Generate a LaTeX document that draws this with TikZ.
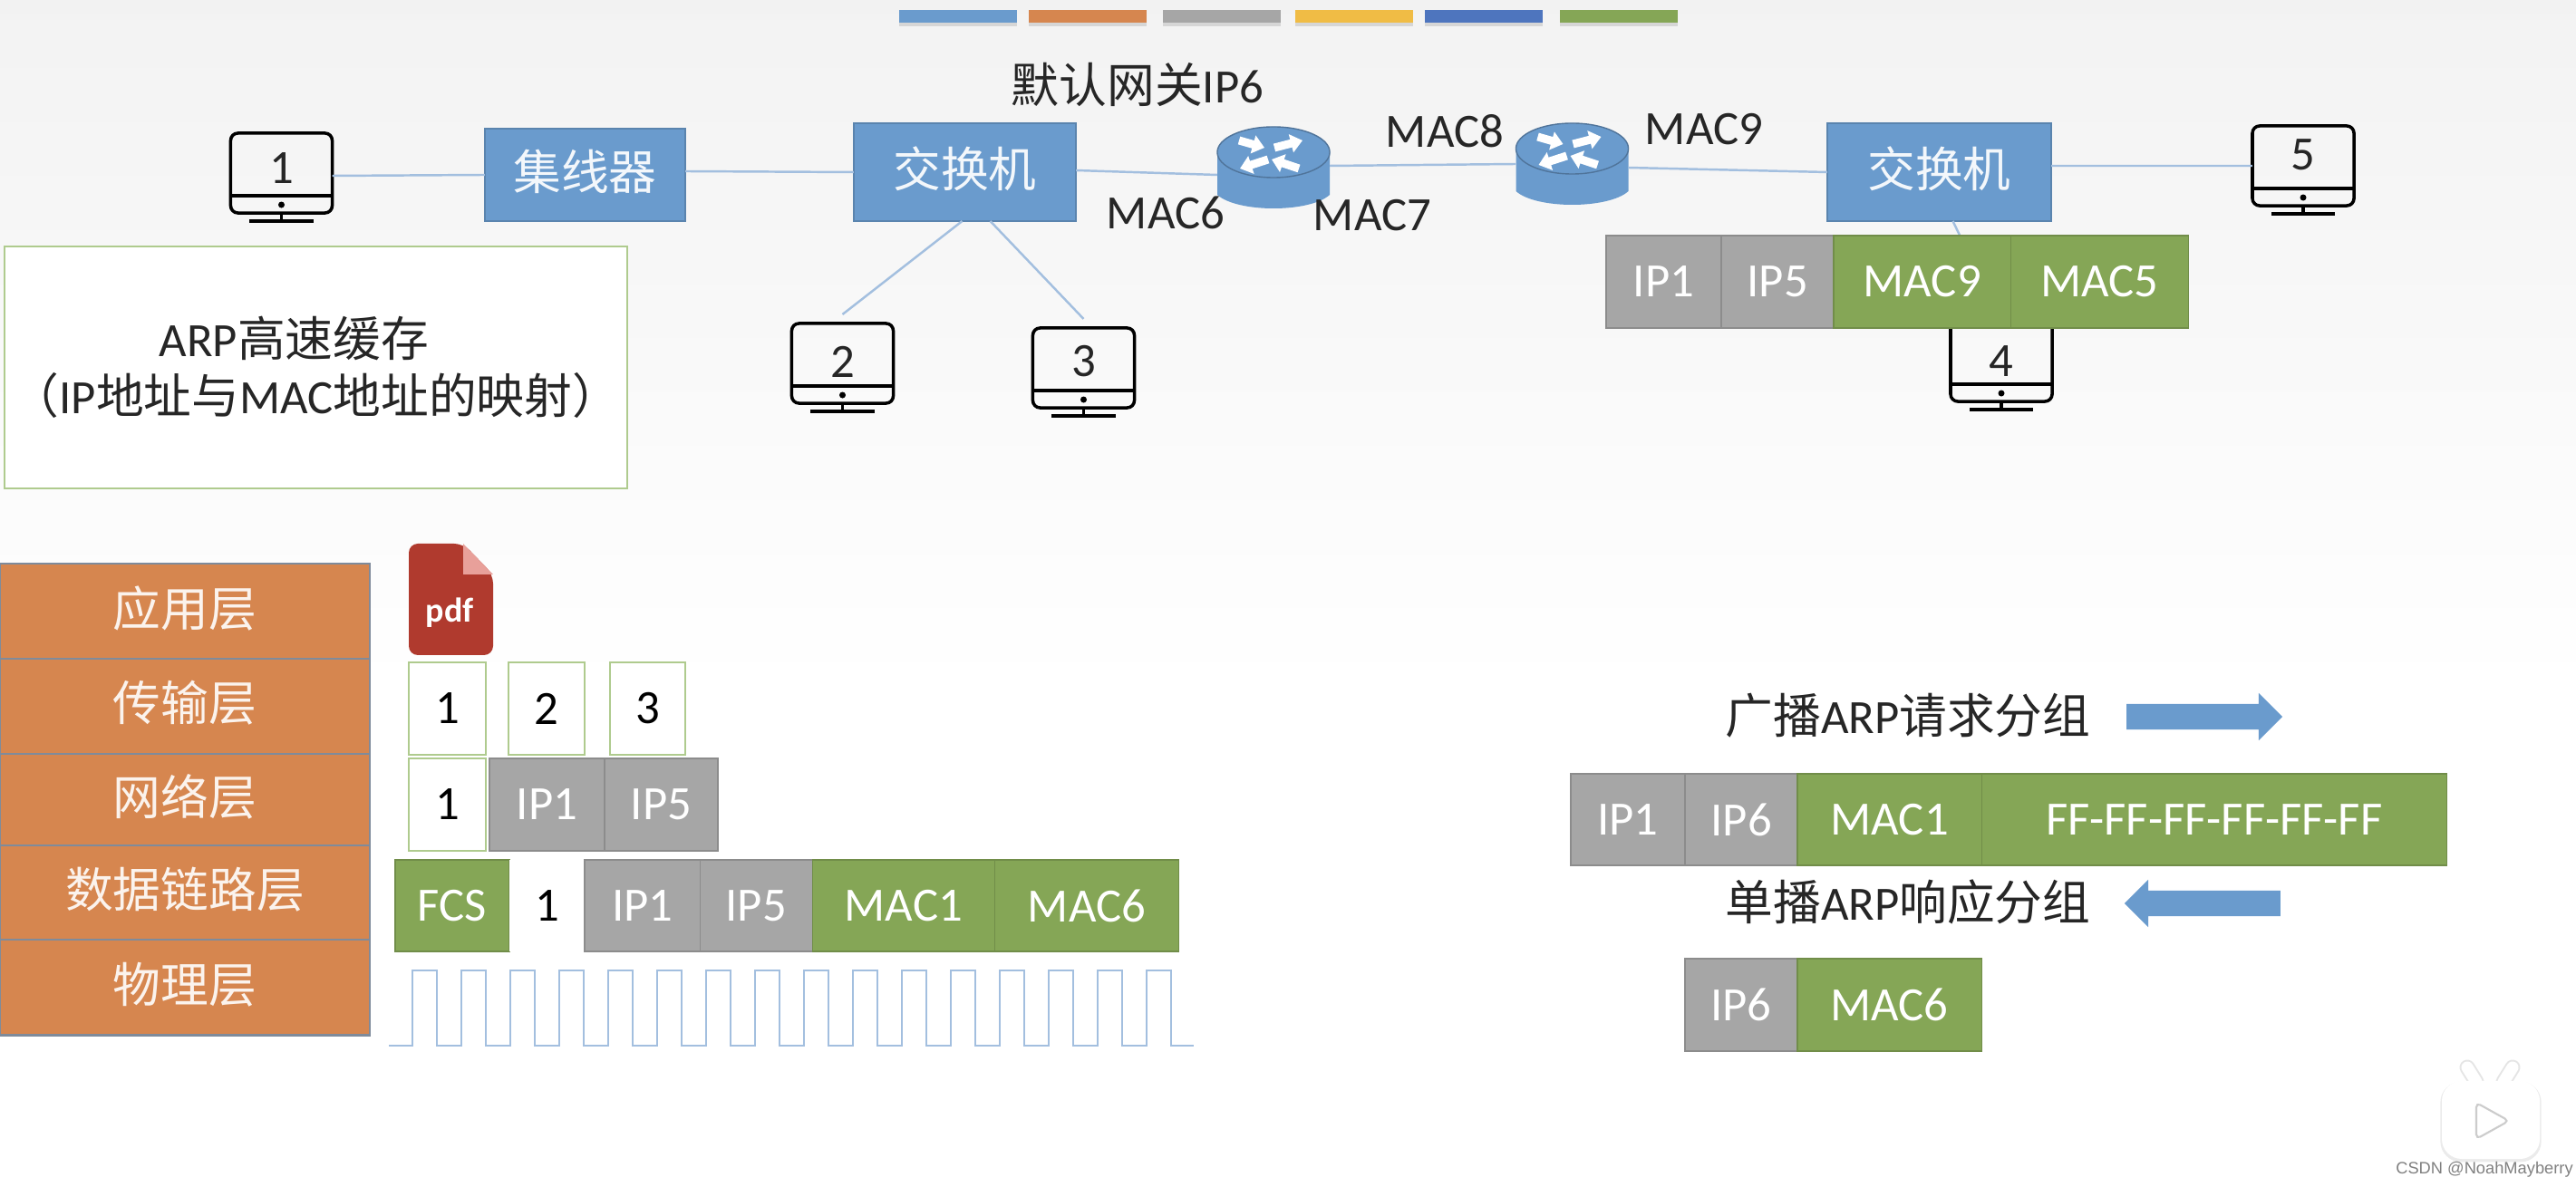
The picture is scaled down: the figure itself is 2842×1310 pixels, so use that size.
\documentclass[tikz,border=0pt]{standalone}
\usepackage{fontspec}
\setmainfont{Carlito}
\newfontfamily\cjk{Noto Sans CJK SC}
\newfontfamily\wmfont{Liberation Sans}
\usetikzlibrary{shapes.arrows,shadows,arrows.meta}

\definecolor{pptblue}{HTML}{6A9BCD}
\definecolor{pptorange}{HTML}{D6864F}
\definecolor{pptgray}{HTML}{A6A6A6}
\definecolor{pptgreen}{HTML}{85A656}
\definecolor{pptyellow}{HTML}{F0BC45}
\definecolor{pptnavy}{HTML}{4E75BE}
\definecolor{linkblue}{HTML}{A3BFDF}
\definecolor{softgreen}{HTML}{AFCB8E}
\definecolor{layerline}{HTML}{7F8B9B}
\definecolor{pdfred}{HTML}{B03A2E}
\definecolor{pdfpink}{HTML}{E8A09A}

\tikzset{
    cell/.style={rectangle, inner sep=0, outer sep=0, minimum height=1.02cm, text=white},
    ipcell/.style={cell, fill=pptgray, draw=black!45, line width=.4pt},
    maccell/.style={cell, fill=pptgreen, draw=pptgreen!85!black, line width=.4pt},
    datacell/.style={cell, fill=white, draw=softgreen, text=black, line width=.6pt},
    layer/.style={rectangle, inner sep=0, outer sep=0, minimum width=4.08cm, fill=pptorange, draw=layerline, line width=.7pt, text=white!90!pptorange},
    device/.style={rectangle, inner sep=0, outer sep=0, fill=pptblue, draw=pptblue!85!black, line width=.4pt, text=white!92!pptblue},
    monitor/.style={rectangle, inner sep=0, outer sep=0, draw=black, line width=1pt, rounded corners=.08cm,
        minimum width=1.12cm, minimum height=.88cm, text=black!85,
        append after command={
            \pgfextra{\draw[line width=1pt] ([yshift=.19cm]\tikzlastnode.south west)--([yshift=.19cm]\tikzlastnode.south east);
            \fill ([yshift=.09cm]\tikzlastnode.south) circle (.035cm);
            \draw[line width=1pt] (\tikzlastnode.south)--([yshift=-.09cm]\tikzlastnode.south);
            \draw[line width=1pt] ([xshift=-.35cm,yshift=-.09cm]\tikzlastnode.south)--([xshift=.35cm,yshift=-.09cm]\tikzlastnode.south);}
        }},
    link/.style={draw=linkblue, line width=.7pt},
    bar/.style={rectangle, inner sep=0, minimum width=1.3cm, minimum height=.14cm, anchor=west,
        drop shadow={shadow xshift=0cm, shadow yshift=-.04cm, opacity=.25}},
    flow/.style={single arrow, inner xsep=0, inner ysep=.135cm, minimum height=1.72cm, single arrow head extend=.12cm, fill=pptblue},
    tag/.style={inner sep=0, text=black!85},
}

% moves the ink only, the node keeps its size
\newcommand{\lift}[2]{\raisebox{#1}[\height][\depth]{#2}}
\newcommand{\zhup}[1]{\lift{.035cm}{\cjk #1}}

% router drawn around its named node
\newcommand{\router}[3]{
    \begin{scope}[shift={(#2,#3)}]
    \fill[pptblue] (-62,-17)--(-62,30) .. controls (-40,50) and (40,50) .. (62,30)--(62,-17)--cycle;
    \draw[fill=pptblue, draw=pptblue!75!black, line width=.4pt] (0,-17) ellipse [x radius=.62cm, y radius=.28cm];
    \draw[white, line width=.09cm, -{Triangle[length=.13cm, width=.2cm]}] (-38,-30)--(-10,-22);
    \draw[white, line width=.09cm, -{Triangle[length=.13cm, width=.2cm]}] (1,-22)--(32,-30);
    \draw[white, line width=.09cm, -{Triangle[length=.13cm, width=.2cm]}] (-6,-9)--(-37,1);
    \draw[white, line width=.09cm, -{Triangle[length=.13cm, width=.2cm]}] (28,1)--(-2,-9);
    \node[inner sep=0, outer sep=0, minimum width=1.24cm, minimum height=.9cm] (#1) at (0,0) {};
    \end{scope}
}

\begin{document}
\begin{tikzpicture}[x=.01cm, y=-.01cm, every node/.style={font=\fontsize{15}{18}\selectfont}]
    \useasboundingbox (0,0) rectangle (2842,1310);
    \shade[top color=black!5, bottom color=white] (0,0) rectangle (2842,760);

    % colour bars at the top
    \path
    (991,18)node[bar, fill=pptblue](bara){}
    (1134,18)node[bar, fill=pptorange](barb){}
    (1282,18)node[bar, fill=pptgray](barc){}
    (1428,18)node[bar, fill=pptyellow](bard){}
    (1571,18)node[bar, fill=pptnavy](bare){}
    (1720,18)node[bar, fill=pptgreen](barf){}
    ;

    % network
    \node[monitor](pc1) at (310.5,191){\lift{.05cm}{1}};
    \node[monitor](pc2) at (929.5,401){\lift{.02cm}{2}};
    \node[monitor](pc3) at (1195.5,406){\lift{.07cm}{3}};
    \node[monitor](pc4) at (2208,399){4};
    \node[monitor](pc5) at (2541,183){\lift{.12cm}{5}};
    \node[device, minimum width=2.21cm, minimum height=1.02cm](hub) at (645.5,193){\zhup{集线器}};
    \node[device, minimum width=2.45cm, minimum height=1.08cm](swa) at (1064.5,190){\zhup{交换机}};
    \node[device, minimum width=2.47cm, minimum height=1.08cm](swb) at (2139.5,190){\zhup{交换机}};
    \router{ra}{1405}{185}
    \router{rb}{1734.5}{181}

    \draw[link] ([yshift=-.03cm]pc1.east)--(hub.west);
    \draw[link] ([yshift=.04cm]hub.east)--(swa.west);
    \draw[link] ([yshift=.02cm]swa.east)--([yshift=-.08cm]ra.west);
    \draw[link] ([yshift=.02cm]ra.east)--(rb.west);
    \draw[link] ([yshift=-.04cm]rb.east)--(swb.west);
    \draw[link] ([yshift=.07cm]swb.east)--(pc5.west);
    \draw[link] ([xshift=-.03cm]swa.south)--([yshift=.1cm]pc2.north);
    \draw[link] ([xshift=.28cm]swa.south)--([yshift=.1cm]pc3.north);
    \draw[link] ([xshift=.15cm]swb.south)--(pc4.north);

    \node[tag](gw) at (1255,93){{\cjk 默认网关}IP6};
    \node[tag](macs) at (1286,235){MAC6};
    \node[tag](macv) at (1514,238){MAC7};
    \node[tag](mace) at (1594,145){MAC8};
    \node[tag](macn) at (1880,143){MAC9};

    % packet at the second switch
    \path
    (1772,311)node[ipcell, minimum width=1.27cm, anchor=west](wa){IP1}
    (wa.east)node[ipcell, minimum width=1.24cm, anchor=west](wb){IP5}
    (wb.east)node[maccell, minimum width=1.95cm, anchor=west](wc){MAC9}
    (wc.east)node[maccell, minimum width=1.96cm, anchor=west](wd){MAC5}
    ;

    % cache box
    \node[rectangle, fill=white, draw=softgreen, line width=.7pt, inner sep=0, minimum width=6.87cm, minimum height=2.67cm, align=center, text=black!85](cache) at (348.5,405.5){ARP{\cjk 高速缓存}\hspace{.48cm}\hspace{.01cm}\\{\cjk （}IP{\cjk 地址与}MAC{\cjk 地址的映射）}};

    % layers
    \path
    (204,622)node[layer, minimum height=1.05cm, anchor=north](la){\zhup{应用层}}
    (la.south)node[layer, minimum height=1.05cm, anchor=north](lb){\zhup{传输层}}
    (lb.south)node[layer, minimum height=1.01cm, anchor=north](lc){\zhup{网络层}}
    (lc.south)node[layer, minimum height=1.04cm, anchor=north](ld){\zhup{数据链路层}}
    (ld.south)node[layer, minimum height=1.05cm, anchor=north](le){\zhup{物理层}}
    ;

    % pdf file
    \fill[pdfred, rounded corners=.1cm] (451,600)--(511,600)--(544,634)--(544,723)--(451,723)--cycle;
    \fill[pdfpink] (511,600)--(544,634)--(511,634)--cycle;
    \node[inner sep=0, text=white, font=\fontsize{10.8}{12}\selectfont\bfseries](pdf) at (496,676){pdf};

    % segments
    \path
    (451,782)node[datacell, minimum width=.85cm, anchor=west](sa){1}
    (561,782)node[datacell, minimum width=.84cm, anchor=west](sb){2}
    (673,782)node[datacell, minimum width=.83cm, anchor=west](sc){3}
    ;
    \path
    (451,888)node[datacell, minimum width=.85cm, anchor=west](na){1}
    (540,888)node[ipcell, minimum width=1.27cm, anchor=west](nb){IP1}
    (nb.east)node[ipcell, minimum width=1.25cm, anchor=west](nc){IP5}
    ;
    \path
    (436,999.5)node[maccell, minimum width=1.26cm, minimum height=1.01cm, anchor=west](fa){FCS}
    (fa.east)node[datacell, minimum width=.83cm, minimum height=1.01cm, draw=none, anchor=west](fb){1}
    (fb.east)node[ipcell, minimum width=1.27cm, minimum height=1.01cm, anchor=west](fc){IP1}
    (fc.east)node[ipcell, minimum width=1.24cm, minimum height=1.01cm, anchor=west](fd){IP5}
    (fd.east)node[maccell, minimum width=2.01cm, minimum height=1.01cm, anchor=west](fe){MAC1}
    (fe.east)node[maccell, minimum width=2.03cm, minimum height=1.01cm, anchor=west](ff){MAC6}
    ;

    % signal
    \coordinate (wave) at (429,1154);
    \draw[link] (wave)--++(26,0)
    --++(0,-83)--++(27,0)--++(0,83)--++(27,0)
    --++(0,-83)--++(27,0)--++(0,83)--++(27,0)
    --++(0,-83)--++(27,0)--++(0,83)--++(27,0)
    --++(0,-83)--++(27,0)--++(0,83)--++(27,0)
    --++(0,-83)--++(27,0)--++(0,83)--++(27,0)
    --++(0,-83)--++(27,0)--++(0,83)--++(27,0)
    --++(0,-83)--++(27,0)--++(0,83)--++(27,0)
    --++(0,-83)--++(27,0)--++(0,83)--++(27,0)
    --++(0,-83)--++(27,0)--++(0,83)--++(27,0)
    --++(0,-83)--++(27,0)--++(0,83)--++(27,0)
    --++(0,-83)--++(27,0)--++(0,83)--++(27,0)
    --++(0,-83)--++(27,0)--++(0,83)--++(27,0)
    --++(0,-83)--++(27,0)--++(0,83)--++(27,0)
    --++(0,-83)--++(27,0)--++(0,83)--++(27,0)
    --++(0,-83)--++(27,0)--++(0,83)--++(27,0)
    --++(0,-83)--++(27,0)--++(0,83)--++(25,0);

    % ARP request and reply
    \node[tag](req) at (2105,790){{\cjk 广播}ARP{\cjk 请求分组}};
    \node[flow](reqa) at (2425,791){};
    \path
    (1733,904.5)node[ipcell, minimum width=1.26cm, minimum height=1.01cm, anchor=west](qa){IP1}
    (qa.east)node[ipcell, minimum width=1.24cm, minimum height=1.01cm, anchor=west](qb){IP6}
    (qb.east)node[maccell, minimum width=2.03cm, minimum height=1.01cm, anchor=west](qc){MAC1}
    (qc.east)node[maccell, minimum width=5.13cm, minimum height=1.01cm, anchor=west](qd){FF-FF-FF-FF-FF-FF}
    ;
    \node[tag](rep) at (2105,995){{\cjk 单播}ARP{\cjk 响应分组}};
    \node[flow, shape border rotate=180](repa) at (2437,997){};
    \path
    (1859,1109)node[ipcell, minimum width=1.24cm, anchor=west](pa){IP6}
    (pa.east)node[maccell, minimum width=2.03cm, anchor=west](pb){MAC6}
    ;

    % player badge
    \draw[black!10, line width=.17cm, line cap=round] (2722,1178)--(2732,1194) (2772,1178)--(2762,1194);
    \draw[white, line width=.13cm, line cap=round] (2722,1178)--(2732,1194) (2772,1178)--(2762,1194);
    \node[rectangle, fill=white, rounded corners=.22cm, inner sep=0, minimum width=1.08cm, minimum height=.86cm,
        drop shadow={shadow xshift=0cm, shadow yshift=-.02cm, opacity=.16, shadow scale=1.03}](badge) at (2748,1236){};
    \draw[fill=white, draw=black!20, line width=.6pt, rounded corners=.05cm] (2732,1217)--(2768,1237)--(2732,1257)--cycle;
    \node[inner sep=0, text=black!50, font=\wmfont\fontsize{5.2}{6}\selectfont](mark) at (2741,1291){CSDN @NoahMayberry};
\end{tikzpicture}
\end{document}
